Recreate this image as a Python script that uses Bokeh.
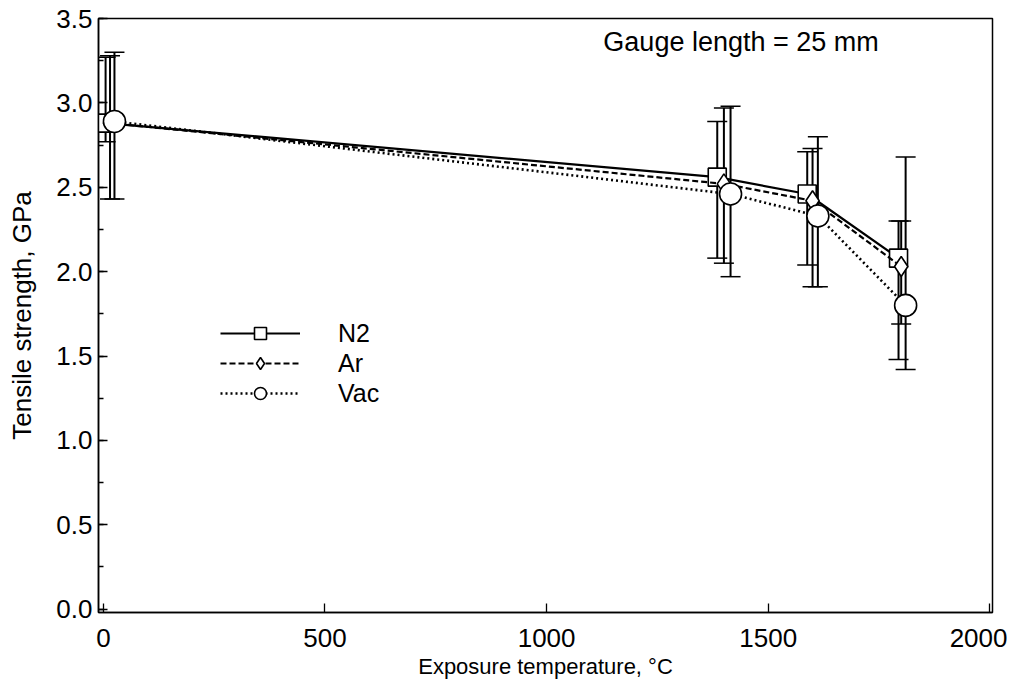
from bokeh.plotting import figure
from bokeh.models import (ColumnDataSource, Whisker, TeeHead, Legend, LegendItem,
                          Range1d, SingleIntervalTicker, Label, PrintfTickFormatter)
from bokeh.embed import file_html
from bokeh.resources import INLINE

# ---- data ----
n2_temp = [5, 1385, 1588, 1794]
n2_val = [2.88, 2.56, 2.46, 2.08]
n2_lo = [2.77, 2.08, 2.04, 1.48]
n2_hi = [3.27, 2.89, 2.71, 2.30]

ar_temp = [15, 1400, 1600, 1800]
ar_val = [2.88, 2.52, 2.42, 2.03]
ar_lo = [2.43, 2.05, 1.91, 1.69]
ar_hi = [3.28, 2.97, 2.73, 2.30]

vac_temp = [25, 1415, 1612, 1810]
vac_val = [2.89, 2.46, 2.33, 1.80]
vac_lo = [2.43, 1.97, 1.91, 1.42]
vac_hi = [3.30, 2.98, 2.80, 2.68]

x_ticks = [0, 500, 1000, 1500, 2000]

FONT = "Liberation Sans"

p = figure(width=1007, height=686, output_backend="svg", toolbar_location=None,
           x_range=Range1d(-11, 2006), y_range=Range1d(-0.02, 3.5),
           min_border_left=98, min_border_top=18, min_border_right=15, min_border_bottom=74)
p.xgrid.visible = False
p.ygrid.visible = False
p.outline_line_color = "black"
p.outline_line_width = 1.5
p.background_fill_color = "white"
p.border_fill_color = "white"

p.xaxis.ticker = x_ticks
p.yaxis.ticker = SingleIntervalTicker(interval=0.5, num_minor_ticks=2)
p.yaxis.formatter = PrintfTickFormatter(format="%.1f")
for ax in (p.xaxis[0], p.yaxis[0]):
    ax.axis_line_color = "black"
    ax.axis_line_width = 1.5
    ax.major_tick_in = 9
    ax.major_tick_out = 0
    ax.major_tick_line_width = 1.3
    ax.major_label_text_font = FONT
    ax.major_label_text_font_size = "26px"
    ax.major_label_text_color = "black"
    ax.axis_label_text_font = FONT
    ax.axis_label_text_font_style = "normal"
    ax.axis_label_text_color = "black"
p.xaxis.minor_tick_line_color = None
p.yaxis.minor_tick_in = 5
p.yaxis.minor_tick_out = 0
p.yaxis.minor_tick_line_width = 1.3
p.xaxis.major_label_standoff = 16
p.yaxis.major_label_standoff = 6
p.xaxis.axis_label = "Exposure temperature, °C"
p.xaxis.axis_label_text_font_size = "22px"
p.xaxis.axis_label_standoff = 4
p.yaxis.axis_label = "Tensile strength, GPa"
p.yaxis.axis_label_text_font_size = "26px"
p.yaxis.axis_label_standoff = 16

series = [
    ("N2", n2_temp, n2_val, n2_lo, n2_hi, "solid", 2.2, "square", 18),
    ("Ar", ar_temp, ar_val, ar_lo, ar_hi, "6 3", 2.2, "diamond", 20),
    ("Vac", vac_temp, vac_val, vac_lo, vac_hi, "2 3", 2.6, "circle", 22),
]

items = []
for name, t, v, lo, hi, dash, lw, marker, size in series:
    src = ColumnDataSource(dict(t=t, v=v, lo=lo, hi=hi))
    w = Whisker(source=src, base="t", lower="lo", upper="hi", dimension="height",
                line_color="black", line_width=2,
                upper_head=TeeHead(size=20, line_width=1.5, line_color="black"),
                lower_head=TeeHead(size=20, line_width=1.5, line_color="black"))
    p.add_layout(w)
    lr = p.line("t", "v", source=src, line_color="black", line_width=lw, line_dash=dash)
    mr = p.scatter("t", "v", source=src, marker=marker, size=size,
                   fill_color="white", line_color="black", line_width=1.6)
    items.append(LegendItem(label=name, renderers=[lr, mr]))

legend = Legend(items=items, location=(122, 204), glyph_width=80, glyph_height=30,
                spacing=0, label_standoff=38, padding=0, margin=0,
                border_line_color=None, background_fill_alpha=0,
                label_text_font=FONT, label_text_font_size="25px",
                label_text_color="black")
p.add_layout(legend)

p.add_layout(Label(x=1128, y=3.36, text="Gauge length = 25 mm", text_font=FONT,
                   text_font_size="27px", text_baseline="middle", text_color="black"))

open("out.html", "w").write(file_html(p, INLINE))
